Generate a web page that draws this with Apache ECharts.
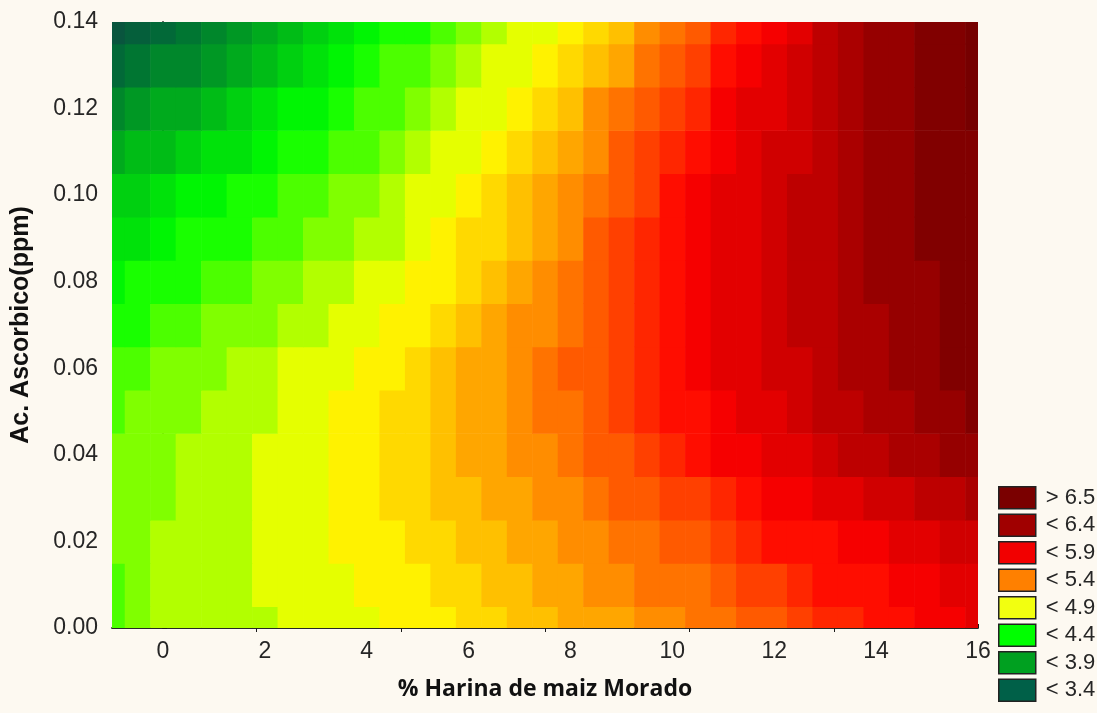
<!DOCTYPE html>
<html>
<head>
<meta charset="utf-8">
<script src="https://cdn.jsdelivr.net/npm/echarts@6/dist/echarts.min.js"></script>
<style>
html,body{margin:0;padding:0;background:#fdf9f1;}
#chart{width:1097px;height:713px;}
</style>
</head>
<body>
<div id="chart"></div>
<script>
// grid of x (% Harina de maiz Morado) and y (Ac. Ascorbico, ppm)
const xs = [-1,-0.5,0,0.5,1,1.5,2,2.5,3,3.5,4,4.5,5,5.5,6,6.5,7,7.5,8,8.5,9,9.5,10,10.5,11,11.5,12,12.5,13,13.5,14,14.5,15,15.5,16];
const ys = [0,0.01,0.02,0.03,0.04,0.05,0.06,0.07,0.08,0.09,0.10,0.11,0.12,0.13,0.14];

// estimated response values, one row per y value
const r00 = [4.55,4.63,4.70,4.72,4.74,4.76,4.78,4.81,4.83,4.86,4.88,4.91,4.94,4.97,5.00,5.05,5.10,5.15,5.20,5.24,5.29,5.33,5.37,5.40,5.46,5.52,5.58,5.64,5.70,5.76,5.80,5.85,5.90,5.95,6.00];
const r01 = [4.58,4.64,4.70,4.73,4.75,4.78,4.80,4.83,4.86,4.89,4.92,4.95,4.99,5.02,5.06,5.11,5.16,5.21,5.26,5.30,5.36,5.41,5.45,5.49,5.56,5.62,5.69,5.75,5.80,5.85,5.89,5.94,5.99,6.03,6.08];
const r02 = [4.60,4.65,4.70,4.73,4.76,4.79,4.82,4.85,4.88,4.91,4.95,4.99,5.03,5.07,5.11,5.17,5.22,5.27,5.31,5.36,5.42,5.48,5.53,5.58,5.65,5.72,5.80,5.85,5.89,5.94,5.98,6.03,6.07,6.11,6.15];
const r03 = [4.60,4.64,4.69,4.72,4.76,4.79,4.82,4.86,4.89,4.93,4.97,5.01,5.06,5.10,5.16,5.22,5.27,5.32,5.38,5.44,5.50,5.56,5.63,5.69,5.77,5.84,5.92,5.97,6.02,6.08,6.13,6.18,6.22,6.26,6.30];
const r04 = [4.60,4.63,4.67,4.71,4.75,4.79,4.82,4.86,4.89,4.94,4.99,5.03,5.08,5.13,5.20,5.26,5.31,5.36,5.44,5.51,5.57,5.64,5.72,5.80,5.90,5.96,6.03,6.09,6.15,6.21,6.28,6.33,6.37,6.41,6.45];
const r05 = [4.56,4.60,4.64,4.68,4.72,4.76,4.79,4.83,4.87,4.92,4.97,5.01,5.07,5.13,5.20,5.27,5.34,5.40,5.47,5.55,5.62,5.71,5.81,5.88,5.97,6.02,6.09,6.14,6.20,6.26,6.33,6.38,6.42,6.46,6.50];
const r06 = [4.50,4.55,4.60,4.64,4.68,4.72,4.76,4.80,4.85,4.89,4.94,4.99,5.05,5.12,5.20,5.28,5.36,5.42,5.50,5.58,5.67,5.77,5.88,5.95,6.03,6.08,6.14,6.19,6.25,6.31,6.38,6.43,6.47,6.51,6.55];
const r07 = [4.43,4.48,4.53,4.57,4.61,4.65,4.69,4.73,4.78,4.83,4.88,4.93,4.99,5.06,5.14,5.22,5.30,5.38,5.46,5.55,5.65,5.75,5.87,5.95,6.03,6.08,6.14,6.20,6.26,6.32,6.39,6.44,6.48,6.52,6.56];
const r08 = [4.35,4.40,4.45,4.49,4.53,4.57,4.61,4.66,4.71,4.76,4.81,4.86,4.92,4.99,5.07,5.15,5.24,5.33,5.42,5.52,5.62,5.73,5.85,5.95,6.02,6.08,6.14,6.20,6.26,6.33,6.40,6.45,6.49,6.53,6.57];
const r09 = [4.23,4.29,4.35,4.40,4.44,4.49,4.53,4.58,4.63,4.68,4.73,4.79,4.86,4.93,5.01,5.09,5.18,5.28,5.39,5.50,5.60,5.71,5.83,5.94,6.01,6.08,6.14,6.20,6.26,6.33,6.40,6.45,6.50,6.54,6.58];
const r10 = [4.10,4.18,4.25,4.30,4.35,4.40,4.45,4.51,4.56,4.61,4.66,4.73,4.80,4.87,4.95,5.03,5.11,5.23,5.35,5.47,5.58,5.69,5.81,5.92,6.00,6.07,6.14,6.20,6.27,6.34,6.40,6.45,6.50,6.54,6.58];
const r11 = [3.93,4.00,4.08,4.14,4.21,4.27,4.33,4.40,4.46,4.52,4.59,4.66,4.73,4.80,4.88,4.95,5.03,5.14,5.26,5.38,5.50,5.62,5.74,5.86,5.96,6.04,6.11,6.18,6.26,6.33,6.40,6.46,6.51,6.55,6.59];
const r12 = [3.75,3.82,3.90,3.98,4.06,4.14,4.22,4.30,4.37,4.44,4.52,4.59,4.66,4.73,4.80,4.87,4.95,5.06,5.17,5.30,5.42,5.54,5.66,5.79,5.91,6.00,6.08,6.16,6.25,6.33,6.41,6.47,6.52,6.56,6.60];
const r13 = [3.52,3.61,3.70,3.79,3.88,3.97,4.06,4.16,4.25,4.33,4.42,4.50,4.57,4.65,4.72,4.80,4.87,4.96,5.06,5.17,5.28,5.42,5.55,5.68,5.80,5.92,6.02,6.12,6.22,6.32,6.40,6.46,6.51,6.56,6.60];
const r14 = [3.30,3.40,3.50,3.60,3.70,3.80,3.90,4.02,4.13,4.23,4.32,4.40,4.48,4.57,4.65,4.72,4.80,4.87,4.95,5.05,5.15,5.30,5.45,5.58,5.70,5.84,5.97,6.08,6.20,6.31,6.40,6.46,6.51,6.56,6.60];
const rows = [r00,r01,r02,r03,r04,r05,r06,r07,r08,r09,r10,r11,r12,r13,r14];

// tick labels
const xTicks = [0,2,4,6,8,10,12,14,16];
const xTopTicks = [1.83,4.67,7.5,10.33,13.17];
const yTicks = [0,0.02,0.04,0.06,0.08,0.10,0.12,0.14];

// contour levels (band edges)
const contourLevels = [3.2,3.3,3.4,3.5,3.6,3.7,3.8,3.9,4.0,4.1,4.2,4.3,4.4,4.5,4.6,4.7,4.8,4.9,5.0,5.1,5.2,5.3,5.4,5.5,5.6,5.7,5.8,5.9,6.0,6.1,6.2,6.3,6.4,6.5,6.6,6.7];

// legend
const legendNames = ['> 6.5','< 6.4','< 5.9','< 5.4','< 4.9','< 4.4','< 3.9','< 3.4'];
const legendColors = ['#7a0000','#a00000','#f20000','#ff8000','#f2ff10','#00ff00','#00a020','#006048'];

// colour ramp anchors
const rampValues = [3.3,3.6,3.9,4.4,4.9,5.4,5.9,6.4,6.6];
const rampColors = ['#0b5040','#006e36','#00a020','#00ff00','#ffff00','#ff8000','#ff0000','#a00000','#760000'];

function hexToRgb(h){return [parseInt(h.substr(1,2),16),parseInt(h.substr(3,2),16),parseInt(h.substr(5,2),16)];}
function rampColor(v){
  if(v<=rampValues[0]) return rampColors[0];
  for(let i=1;i<rampValues.length;i++){
    if(v<=rampValues[i]){
      const t=(v-rampValues[i-1])/(rampValues[i]-rampValues[i-1]);
      const a=hexToRgb(rampColors[i-1]), b=hexToRgb(rampColors[i]);
      const c=a.map((q,k)=>Math.round(q+(b[k]-q)*t));
      return 'rgb('+c.join(',')+')';
    }
  }
  return rampColors[rampColors.length-1];
}
const pieces=[{lt:contourLevels[0],color:rampColor(contourLevels[0])}];
for(let i=0;i<contourLevels.length-1;i++){
  pieces.push({gte:contourLevels[i],lt:contourLevels[i+1],color:rampColor((contourLevels[i]+contourLevels[i+1])/2)});
}
pieces.push({gte:contourLevels[contourLevels.length-1],color:rampColor(7)});

const data=[];
rows.forEach((row,j)=>row.forEach((v,i)=>data.push([xs[i],ys[j],v])));
const dx=xs[1]-xs[0], dy=ys[1]-ys[0];

const chart=echarts.init(document.getElementById('chart'),null,{renderer:'canvas'});
const labelFont={fontFamily:'Liberation Sans, Arial, sans-serif',fontSize:23,color:'#262626'};
const axisLineStyle={lineStyle:{color:'#1a1a1a',width:1.5}};

const series=[{
  type:'custom',
  coordinateSystem:'cartesian2d',
  clip:true,
  encode:{x:0,y:1},
  data:data,
  renderItem:function(params,api){
    const x=api.value(0), y=api.value(1);
    const p0=api.coord([x-dx/2,y+dy/2]);
    const p1=api.coord([x+dx/2,y-dy/2]);
    return {type:'rect',shape:{x:p0[0],y:p0[1],width:p1[0]-p0[0]+0.6,height:p1[1]-p0[1]+0.6},style:{fill:api.visual('color')}};
  }
}];
legendNames.forEach((n,i)=>series.push({type:'scatter',name:n,data:[],itemStyle:{color:legendColors[i],opacity:1}}));

chart.setOption({
  backgroundColor:'#fdf9f1',
  animation:false,
  grid:{left:112,right:119,top:22,bottom:85},
  visualMap:{type:'piecewise',show:false,seriesIndex:0,dimension:2,pieces:pieces},
  legend:{
    data:legendNames,orient:'vertical',left:998,top:486,padding:0,
    itemWidth:37,itemHeight:22,itemGap:4,icon:'rect',
    itemStyle:{borderColor:'#222',borderWidth:1.5,opacity:1},
    selectedMode:false,
    textStyle:{fontFamily:'Liberation Sans, Arial, sans-serif',fontSize:22,color:'#262626',padding:[0,0,0,5]}
  },
  xAxis:[{
    type:'value',min:-1,max:16,position:'bottom',
    name:'% Harina de maiz Morado',nameLocation:'middle',nameGap:50,
    nameTextStyle:{fontFamily:'Open Sans, sans-serif',fontWeight:'bold',fontSize:23,color:'#111'},
    axisLine:axisLineStyle,
    axisTick:{inside:true,length:4,customValues:xTicks,lineStyle:{color:'#1a1a1a'}},
    axisLabel:Object.assign({customValues:xTicks,margin:12},labelFont),
    splitLine:{show:false}
  },{
    type:'value',min:-1,max:16,position:'top',
    axisLine:axisLineStyle,
    axisTick:{inside:true,length:4,customValues:xTopTicks,lineStyle:{color:'#1a1a1a'}},
    axisLabel:{show:false},splitLine:{show:false}
  }],
  yAxis:[{
    type:'value',min:0,max:0.14,position:'left',
    name:'Ac. Ascorbico(ppm)',nameLocation:'middle',nameGap:78,
    nameTextStyle:{fontFamily:'Liberation Sans, Arial, sans-serif',fontWeight:'bold',fontSize:25,color:'#111'},
    axisLine:axisLineStyle,
    axisTick:{inside:true,length:4,customValues:yTicks,lineStyle:{color:'#1a1a1a'}},
    axisLabel:Object.assign({customValues:yTicks,margin:14,formatter:v=>v.toFixed(2)},labelFont),
    splitLine:{show:false}
  },{
    type:'value',min:0,max:0.14,position:'right',
    axisLine:axisLineStyle,axisTick:{show:false},axisLabel:{show:false},splitLine:{show:false}
  }],
  series:series
});
</script>
</body>
</html>
